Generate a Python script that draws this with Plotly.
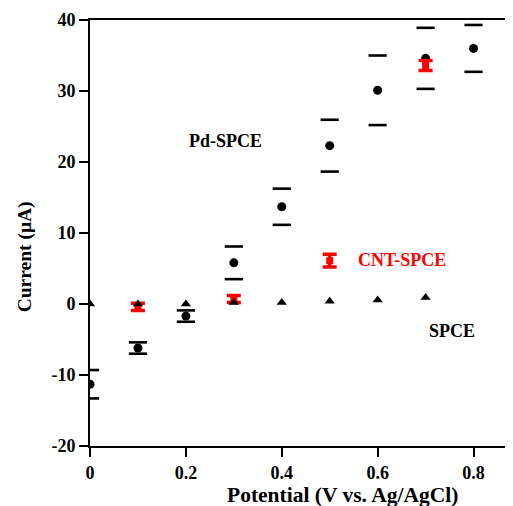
import plotly.graph_objects as go

# Pd-SPCE
pd_x = [0, 0.1, 0.2, 0.3, 0.4, 0.5, 0.6, 0.7, 0.8]
pd_mean = [-11.3, -6.2, -1.7, 5.8, 13.7, 22.3, 30.1, 34.6, 36.0]
pd_err = [2.0, 0.8, 0.8, 2.3, 2.55, 3.65, 4.9, 4.3, 3.3]

# CNT-SPCE
cnt_x = [0.1, 0.3, 0.5, 0.7]
cnt_mean = [-0.4, 0.7, 6.1, 33.6]
cnt_err = [0.5, 0.5, 0.9, 0.7]

# SPCE
spce_x = [0, 0.1, 0.2, 0.3, 0.4, 0.5, 0.6, 0.7]
spce_mean = [0.0, 0.0, 0.0, 0.2, 0.2, 0.4, 0.55, 0.9]

x_ticks = [0, 0.2, 0.4, 0.6, 0.8]
x_ticklabels = ["0", "0.2", "0.4", "0.6", "0.8"]
y_ticks = [-20, -10, 0, 10, 20, 30, 40]
y_ticklabels = ["-20", "-10", "0", "10", "20", "30", "40"]

FONT = "Liberation Serif"

fig = go.Figure()

# Pd-SPCE error caps (no stems)
pd_upper = [m + e for m, e in zip(pd_mean, pd_err)]
pd_lower = [m - e for m, e in zip(pd_mean, pd_err)]
fig.add_trace(go.Scatter(
    x=pd_x + pd_x, y=pd_upper + pd_lower, mode="markers",
    marker=dict(symbol="line-ew", size=13, line=dict(color="black", width=2.6)),
    showlegend=False, hoverinfo="skip"))
fig.add_trace(go.Scatter(
    x=pd_x, y=pd_mean, mode="markers",
    marker=dict(symbol="circle", size=9, color="black"),
    showlegend=False, name="Pd-SPCE"))

# CNT-SPCE
fig.add_trace(go.Scatter(
    x=cnt_x, y=cnt_mean, mode="markers",
    marker=dict(symbol="square", size=7, color="red"),
    error_y=dict(type="data", array=cnt_err, color="red", thickness=3.5, width=7),
    showlegend=False, name="CNT-SPCE"))

# SPCE
fig.add_trace(go.Scatter(
    x=spce_x, y=spce_mean, mode="markers",
    marker=dict(symbol="triangle-up", size=9, color="black"),
    showlegend=False, name="SPCE"))

fig.add_annotation(x=0.283, y=23.0, text="<b>Pd-SPCE</b>", showarrow=False,
                   font=dict(family=FONT, size=18, color="black"))
fig.add_annotation(x=0.651, y=6.2, text="<b>CNT-SPCE</b>", showarrow=False,
                   font=dict(family=FONT, size=18, color="red"))
fig.add_annotation(x=0.755, y=-3.8, text="<b>SPCE</b>", showarrow=False,
                   font=dict(family=FONT, size=18, color="black"))

# axis titles
fig.add_annotation(xref="paper", yref="paper", x=0.586, y=0, yshift=-49,
                   xanchor="center", yanchor="middle", showarrow=False,
                   text="<b>Potential (V vs. Ag/AgCl)</b>",
                   font=dict(family=FONT, size=21.5, color="black"))
fig.add_annotation(xref="paper", yref="paper", x=-0.152, y=0.444,
                   xanchor="center", yanchor="middle", showarrow=False, textangle=-90,
                   text="<b>Current (μA)</b>",
                   font=dict(family=FONT, size=19.5, color="black"))

fig.update_layout(
    width=513, height=506,
    margin=dict(l=81.5, r=0, t=12, b=68),
    paper_bgcolor="white", plot_bgcolor="white",
    font=dict(family=FONT, color="black"),
    xaxis=dict(
        range=[0, 0.899], tickvals=x_ticks, ticktext=x_ticklabels,
        showgrid=False, zeroline=False, showline=True, linecolor="black", linewidth=2,
        mirror=True, ticks="outside", ticklen=9, tickwidth=2, tickcolor="black",
        tickfont=dict(family=FONT, size=18, weight="bold"), automargin=False,
    ),
    yaxis=dict(
        range=[-20, 40], tickvals=y_ticks, ticktext=y_ticklabels,
        showgrid=False, zeroline=False, showline=True, linecolor="black", linewidth=2,
        ticks="outside", ticklen=9, tickwidth=2, tickcolor="black",
        tickfont=dict(family=FONT, size=18, weight="bold"), automargin=False,
    ),
)

fig.write_html("out.html")
